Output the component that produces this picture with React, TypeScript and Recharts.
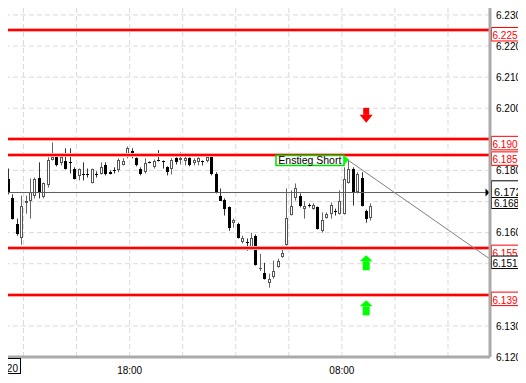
import React from "react";
import { ComposedChart, Bar, XAxis, YAxis, CartesianGrid, ReferenceLine, ReferenceDot } from "recharts";

const FONT = "'Liberation Sans', Arial, sans-serif";

// 15-min candles, one slot each
const opens = [
  6176.8, 6177.1, 6177.1, 6171.0, 6162.9, 6158.4, 6169.4, 6170.3, 6171.9, 6177.7,
  6171.3, 6175.2, 6183.5, 6184.8, 6182.3, 6182.9, 6182.6, 6180.6, 6178.1, 6179.0,
  6179.0, 6176.1, 6179.0, 6179.0, 6181.9, 6179.4, 6180.0, 6180.0, 6181.9, 6184.2,
  6186.1, 6183.9, 6180.3, 6179.4, 6182.6, 6181.0, 6183.2, 6182.9, 6181.0, 6180.3,
  6183.9, 6183.2, 6182.9, 6183.9, 6182.3, 6182.6, 6182.9, 6182.9, 6184.8, 6179.0,
  6171.9, 6170.6, 6168.1, 6163.2, 6162.9, 6157.1, 6157.1, 6155.2, 6159.0, 6148.5,
  6147.1, 6143.9, 6145.8, 6149.0, 6152.3, 6156.1, 6165.8, 6171.0, 6171.9, 6167.7,
  6169.0, 6167.7, 6168.1, 6160.6, 6164.8, 6166.1, 6167.1, 6166.1, 6166.1, 6176.1,
  6180.6, 6172.9, 6177.7, 6167.1, 6164.8,
];
const highs = [
  6181.0, 6180.6, 6180.6, 6172.3, 6164.5, 6171.9, 6171.9, 6177.4, 6177.7, 6182.6,
  6176.1, 6184.2, 6189.0, 6185.2, 6184.8, 6187.1, 6187.1, 6181.0, 6180.6, 6182.6,
  6180.6, 6180.6, 6179.7, 6182.6, 6182.6, 6180.0, 6181.0, 6183.9, 6183.9, 6187.7,
  6187.1, 6184.2, 6181.0, 6183.9, 6182.9, 6183.5, 6186.5, 6183.2, 6181.3, 6183.9,
  6184.2, 6185.8, 6184.8, 6184.2, 6183.9, 6184.2, 6183.2, 6185.5, 6185.2, 6179.4,
  6174.2, 6171.0, 6168.4, 6164.5, 6163.2, 6159.0, 6158.1, 6160.0, 6159.4, 6153.2,
  6150.3, 6146.8, 6151.0, 6151.6, 6155.8, 6174.2, 6173.6, 6175.8, 6172.6, 6170.0,
  6169.4, 6169.4, 6168.4, 6166.5, 6166.5, 6169.7, 6167.7, 6173.6, 6181.0, 6183.2,
  6181.0, 6179.4, 6179.4, 6167.4, 6169.4,
];
const lows = [
  6175.8, 6175.8, 6172.3, 6164.2, 6159.0, 6156.1, 6166.1, 6164.5, 6171.0, 6171.0,
  6171.0, 6174.5, 6183.2, 6181.3, 6181.6, 6180.3, 6179.0, 6177.1, 6176.8, 6176.8,
  6177.7, 6175.8, 6177.7, 6178.7, 6178.4, 6178.7, 6179.0, 6179.4, 6181.6, 6183.9,
  6183.9, 6181.3, 6178.4, 6179.0, 6182.3, 6180.6, 6182.9, 6180.6, 6178.4, 6178.7,
  6181.9, 6181.9, 6181.6, 6181.3, 6181.6, 6181.6, 6181.6, 6182.6, 6178.4, 6172.6,
  6170.3, 6165.5, 6160.6, 6161.6, 6158.1, 6156.5, 6154.2, 6154.9, 6149.4, 6147.7,
  6144.9, 6142.3, 6145.2, 6148.7, 6151.9, 6155.8, 6165.5, 6170.3, 6168.1, 6164.5,
  6168.1, 6167.4, 6161.0, 6160.0, 6164.5, 6164.5, 6165.5, 6165.8, 6165.8, 6175.8,
  6168.7, 6172.6, 6168.4, 6163.2, 6163.9,
];
const closes = [
  6178.1, 6176.1, 6172.6, 6164.5, 6159.4, 6168.4, 6170.3, 6173.2, 6177.4, 6172.6,
  6175.8, 6183.2, 6184.2, 6181.6, 6184.2, 6180.6, 6182.5, 6177.4, 6180.3, 6178.4,
  6178.4, 6180.3, 6178.7, 6181.0, 6178.7, 6179.0, 6179.7, 6183.2, 6182.9, 6187.1,
  6184.5, 6181.6, 6178.7, 6182.3, 6182.5, 6182.9, 6183.1, 6182.6, 6179.4, 6183.2,
  6182.6, 6183.9, 6183.9, 6181.6, 6183.5, 6183.9, 6182.6, 6184.2, 6178.7, 6173.2,
  6170.3, 6167.7, 6161.6, 6164.2, 6158.4, 6158.4, 6157.0, 6158.4, 6149.7, 6148.7,
  6145.2, 6145.2, 6147.7, 6151.0, 6153.5, 6164.8, 6168.4, 6174.5, 6168.4, 6168.7,
  6168.4, 6169.0, 6161.3, 6163.9, 6166.1, 6169.0, 6166.5, 6170.3, 6177.4, 6180.6,
  6172.6, 6179.0, 6168.7, 6164.5, 6168.4,
];

const yTicks = [6120, 6130, 6140, 6150, 6160, 6170, 6180, 6190, 6200, 6210, 6220, 6230];
const hiddenYTicks = [6140, 6150, 6170, 6190];
const xTicks = [5.5, 17.5, 29.5, 41.5, 53.5, 65.5, 77.5, 89.5, 101.5];
const xTickLabels = ["", "", "18:00", "", "", "", "08:00", "", ""];

const redLevels = [6225.0, 6190.0, 6185.0, 6155.0, 6139.9];
const pivotLevel = 6172.8;
const trendStart = { slot: 79, price: 6183.2 };
const trendEnd = { slot: 111, price: 6151.5 };
const signalSlot = 83;
const shortSignals = [6197.7];
const longSignals = [6150.3, 6135.8];
const entryText = "Enstieg Short";

const rows = opens.map((open, i) => ({ slot: i, open, high: highs[i], low: lows[i], close: closes[i] }));
const lastClose = closes[closes.length - 1];

// german number style: 6.230,0
const fmt = (v: number, digits = 1) => {
  const [int, dec] = v.toFixed(digits).split(".");
  const grouped = int.replace(/\B(?=(\d{3})+(?!\d))/g, ".");
  return dec ? `${grouped},${dec}` : grouped;
};

const Candle = (props: any) => {
  const { x, y, width, height } = props;
  const p = props.payload || props;
  if (p == null || p.high == null) return <g />;
  const top = Math.min(y, y + height);
  const h = Math.abs(height);
  const k = h / (p.high - p.low);
  const py = (v: number) => top + (p.high - v) * k;
  const c = Math.floor(x + width / 2) + 0.5;
  const up = p.close >= p.open;
  const bt = Math.round(py(Math.max(p.open, p.close)));
  const bb = Math.round(py(Math.min(p.open, p.close)));
  let body;
  if (bb - bt < 2) {
    body = <line x1={c - 1.5} x2={c + 1.5} y1={bt + 0.5} y2={bt + 0.5} stroke={up ? "#555" : "#000"} />;
  } else if (up) {
    body = <rect x={c - 1} y={bt + 0.5} width={2} height={bb - bt - 1} fill="#fff" stroke="#555" />;
  } else {
    body = <rect x={c - 1.5} y={bt} width={3} height={bb - bt} fill="#000" />;
  }
  return (
    <g>
      <line x1={c} x2={c} y1={top} y2={top + h} stroke={up ? "#666" : "#333"} />
      {body}
    </g>
  );
};

// price box on the right of the plot
const tag = (right: number, ly: number, text: string, color: string, o: any = {}) => {
  const top = o.top ?? -3;
  const hgt = o.height ?? 13.5;
  const base = o.base ?? 8.5;
  const w = o.width ?? 44;
  return (
    <g>
      <rect x={right + 1.5} y={ly + top} width={w} height={hgt} fill="#fff" stroke={color} />
      <text x={right + (o.dx ?? 2.5)} y={ly + base} fontSize={o.fontSize ?? 10} fill={color} fontFamily={FONT}>
        {text}
      </text>
    </g>
  );
};

const redShape = (level: number) => (props: any) => {
  const { x1, x2, y1 } = props;
  const yr = Math.round(y1);
  const right = Math.max(x1, x2);
  return (
    <g>
      <line x1={x1} x2={x2} y1={yr - 1.5} y2={yr - 1.5} stroke="#ffa8a8" />
      <line x1={x1} x2={x2} y1={yr + 1.5} y2={yr + 1.5} stroke="#ffa8a8" />
      <line x1={x1} x2={x2} y1={yr} y2={yr} stroke="#ff0000" strokeWidth={2} />
      {tag(right, y1, fmt(level), "#ff0000")}
    </g>
  );
};

const pivotShape = (props: any) => {
  const { x1, x2, y1 } = props;
  const yr = Math.floor(y1) + 0.5;
  const right = Math.max(x1, x2);
  return (
    <g>
      <line x1={x1} x2={x2} y1={yr} y2={yr} stroke="#606060" />
      {tag(right, y1, fmt(pivotLevel), "#000", { top: -12, height: 17.5, base: 3.5, fontSize: 11, dx: 4 })}
      <polygon points={`${right - 4.5},${yr - 4} ${right - 0.5},${yr} ${right - 4.5},${yr + 4}`} fill="#000" />
    </g>
  );
};

const lastShape = (props: any) => {
  const { x1, x2, y1 } = props;
  return tag(Math.max(x1, x2), y1, fmt(lastClose, 0), "#000", { top: -9, height: 11, base: 0.5, width: 31, dx: 4 });
};

const trendShape = (props: any) => {
  const { x1, y1, x2, y2 } = props;
  return (
    <g>
      <line x1={x1} y1={y1} x2={x2} y2={y2} stroke="#808080" />
      {tag(Math.max(x1, x2), Math.max(y1, y2), fmt(trendEnd.price), "#000", { top: -3, height: 12.5, base: 8 })}
    </g>
  );
};

const arrow = (dir: "up" | "down", color: string) => (props: any) => {
  const { cx, cy } = props;
  if (dir === "up") {
    return (
      <g fill={color}>
        <polygon points={`${cx},${cy - 7.5} ${cx + 6.5},${cy - 1.5} ${cx - 6.5},${cy - 1.5}`} />
        <rect x={cx - 3.5} y={cy - 1.5} width={7} height={9} />
      </g>
    );
  }
  return (
    <g fill={color}>
      <rect x={cx - 3} y={cy - 7.5} width={6} height={7} />
      <polygon points={`${cx - 6.5},${cy - 0.5} ${cx + 6.5},${cy - 0.5} ${cx},${cy + 7.5}`} />
    </g>
  );
};

const EntryTag = (props: any) => {
  const { cx, cy } = props;
  return (
    <g>
      <rect x={cx - 72.5} y={cy - 5} width={68} height={10} fill="#fff" stroke="#00e000" strokeWidth={1.5} />
      <polygon points={`${cx - 4.5},${cy - 5} ${cx + 0.5},${cy - 1} ${cx - 4.5},${cy + 4.5}`} fill="#00ff00" />
      <text x={cx - 70.2} y={cy + 3.2} fontSize={10.5} fill="#000" fontFamily={FONT}>
        {entryText}
      </text>
    </g>
  );
};

// the axis column is only wide enough for "6.230," in the source
const YTick = (props: any) => {
  const { x, y, payload } = props;
  if (hiddenYTicks.includes(payload.value)) return <g />;
  return (
    <text x={x} y={y + 3.6} fontSize={10} fill="#000" fontFamily={FONT}>
      {fmt(payload.value).slice(0, -1)}
    </text>
  );
};

export default function App() {
  return (
    <div style={{ position: "relative", width: 526, height: 383, overflow: "hidden", margin: -8, background: "#fff" }}>
      <div style={{ position: "absolute", left: -3, top: 0 }}>
        <ComposedChart width={553} height={383} data={rows} margin={{ top: 0, right: 0, bottom: 0, left: 0 }}>
          <CartesianGrid stroke="#dadada" strokeDasharray="5 3" />
          <XAxis
            dataKey="slot"
            type="number"
            domain={[-0.5, 111]}
            allowDataOverflow
            ticks={xTicks}
            interval={0}
            height={26}
            tickLine={false}
            tickMargin={4}
            axisLine={{ stroke: "#aaaaaa", strokeWidth: 3 }}
            tick={{ fontSize: 10, fill: "#000", fontFamily: FONT }}
            tickFormatter={(v: number) => xTickLabels[xTicks.indexOf(v)] ?? ""}
          />
          <YAxis
            orientation="right"
            type="number"
            domain={[6120, 6234.8]}
            allowDataOverflow
            ticks={yTicks}
            interval={0}
            width={60}
            tickLine={false}
            tickSize={0}
            tickMargin={6}
            axisLine={{ stroke: "#aaaaaa", strokeWidth: 3 }}
            tick={YTick}
          />
          {redLevels.map((lv) => (
            <ReferenceLine key={lv} y={lv} shape={redShape(lv)} />
          ))}
          <ReferenceLine y={pivotLevel} shape={pivotShape} />
          <ReferenceLine y={lastClose} shape={lastShape} />
          <ReferenceLine
            segment={[
              { x: trendStart.slot, y: trendStart.price },
              { x: trendEnd.slot, y: trendEnd.price },
            ]}
            shape={trendShape}
          />
          <Bar dataKey={(d: any) => [d.low, d.high]} barSize={3} shape={Candle} isAnimationActive={false} />
          {shortSignals.map((p) => (
            <ReferenceDot key={p} x={signalSlot} y={p} r={0} shape={arrow("down", "#ff0000")} />
          ))}
          {longSignals.map((p) => (
            <ReferenceDot key={p} x={signalSlot} y={p} r={0} shape={arrow("up", "#00ff00")} />
          ))}
          <ReferenceDot x={trendStart.slot} y={trendStart.price} r={0} shape={EntryTag} />
        </ComposedChart>
      </div>
      <svg width={526} height={383} style={{ position: "absolute", left: 0, top: 0, pointerEvents: "none" }}>
        <rect x={-10.5} y={358.5} width={31} height={15} fill="#fff" stroke="#000" />
        <text x={18} y={371.5} fontSize={10} textAnchor="end" fill="#000" fontFamily={FONT}>
          15:20
        </text>
        <text x={281.5} y={389} fontSize={10} fill="#000" fontFamily={FONT}>
          24
        </text>
      </svg>
    </div>
  );
}
